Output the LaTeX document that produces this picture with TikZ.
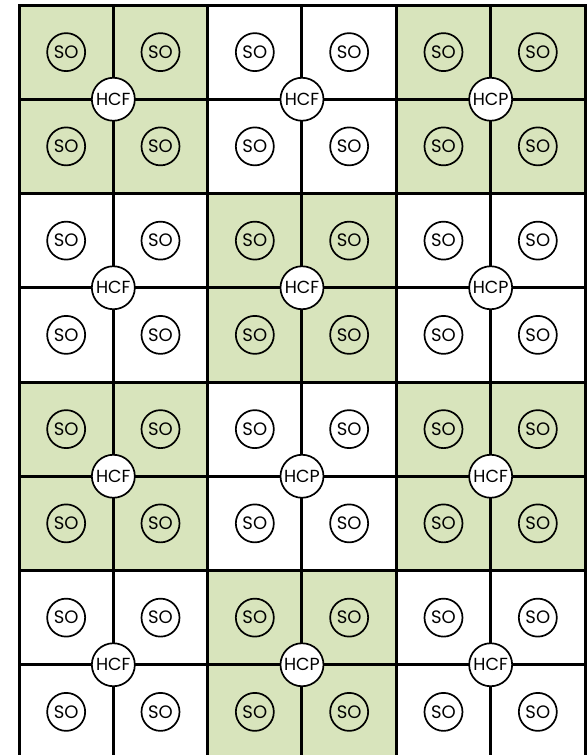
\documentclass[tikz,border=0pt]{standalone}
\usepackage{fontspec}
\setmainfont{Poppins}
\usepackage{tikz}

\definecolor{cellgreen}{HTML}{D8E4BC}

\tikzset{
  gridline/.style={line width=3pt},
  socircle/.style={draw, circle, line width=1.7pt, minimum size=38pt, inner sep=0pt,
    font=\fontsize{18}{18}\selectfont},
  hcnode/.style={draw, circle, fill=white, line width=1.7pt, minimum size=43pt, inner sep=0pt,
    font=\fontsize{17.5}{17.5}\selectfont}
}

\begin{document}
\begin{tikzpicture}[x=1pt, y=-1pt]
\useasboundingbox (0,0) rectangle (587,755);
\def\cw{94.33}
\def\ch{94.25}

% green blocks
\foreach \bx in {0,1,2}{
  \foreach \by in {0,1,2,3}{
    \pgfmathtruncatemacro{\parity}{mod(\bx+\by,2)}
    \ifnum\parity=0
      \fill[cellgreen] ({19+2*\bx*\cw},{5+2*\by*\ch}) rectangle +({2*\cw},{2*\ch});
    \fi
  }
}

% grid
\foreach \i in {1,...,5}
  \draw[gridline] ({19+\i*\cw},5) -- ({19+\i*\cw},760);
\foreach \j in {1,...,7}
  \draw[gridline] (19,{5+\j*\ch}) -- (585,{5+\j*\ch});
\draw[gridline] (19,760) -- (19,5) -- (585,5) -- (585,760);

% SO circles
\foreach \i in {0,...,5}{
  \foreach \j in {0,...,7}{
    \node[socircle] (so-\i-\j) at ({19+(\i+0.5)*\cw},{5+(\j+0.5)*\ch}) {SO};
  }
}

% HCF / HCP
\foreach \bx/\by/\lab in {0/0/HCF, 1/0/HCF, 2/0/HCP,
                          0/1/HCF, 1/1/HCF, 2/1/HCP,
                          0/2/HCF, 1/2/HCP, 2/2/HCF,
                          0/3/HCF, 1/3/HCP, 2/3/HCF}{
  \node[hcnode] (hc-\bx-\by) at ({19+(2*\bx+1)*\cw},{5+(2*\by+1)*\ch}) {\lab};
}
\end{tikzpicture}
\end{document}
